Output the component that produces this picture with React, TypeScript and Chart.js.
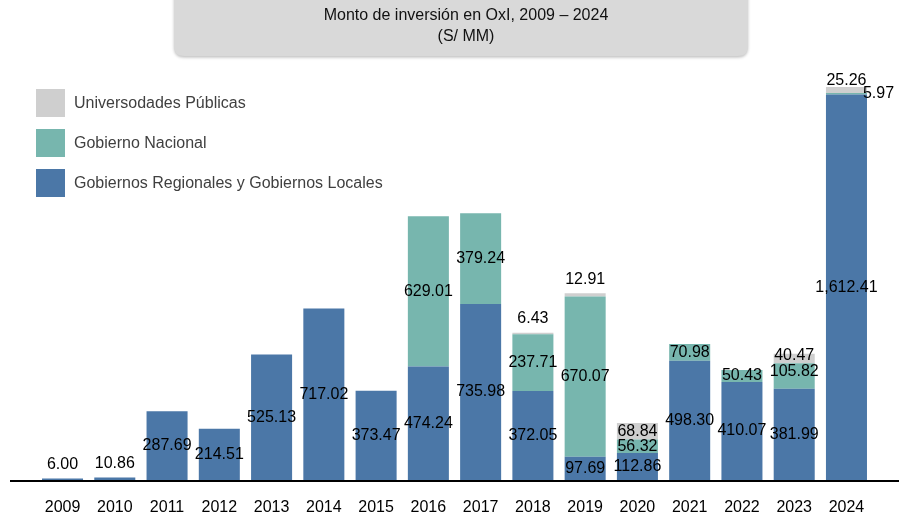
import React, { useEffect, useRef } from 'react';
import { Chart, registerables } from 'chart.js';

Chart.register(...registerables);

const years = ['2009', '2010', '2011', '2012', '2013', '2014', '2015', '2016', '2017', '2018', '2019', '2020', '2021', '2022', '2023', '2024'];
const gobiernosRegionalesLocales = [6.0, 10.86, 287.69, 214.51, 525.13, 717.02, 373.47, 474.24, 735.98, 372.05, 97.69, 112.86, 498.3, 410.07, 381.99, 1612.41];
const gobiernoNacional = [null, null, null, null, null, null, null, 629.01, 379.24, 237.71, 670.07, 56.32, 70.98, 50.43, 105.82, 5.97];
const universidadesPublicas = [null, null, null, null, null, null, null, null, null, 6.43, 12.91, 68.84, null, null, 40.47, 25.26];

const titleLines = ['Monto de inversión en OxI, 2009 – 2024', '(S/ MM)'];
const seriesNames = ['Gobiernos Regionales y Gobiernos Locales', 'Gobierno Nacional', 'Universodades Públicas'];
const seriesColors = ['#4b77a7', '#77b6ae', '#cfcfcf'];

const FONT = '"Liberation Sans", Arial, sans-serif';

const fmt = (v: number) => v.toLocaleString('en-US', { minimumFractionDigits: 2, maximumFractionDigits: 2 });

const decorPlugin = {
  id: 'decor',
  beforeDraw(chart: any) {
    const ctx = chart.ctx;
    ctx.save();
    // title box
    const x = 174, y = -12, w = 574, h = 68, r = 10;
    ctx.shadowColor = 'rgba(0,0,0,0.25)';
    ctx.shadowBlur = 3;
    ctx.shadowOffsetY = 1.5;
    ctx.fillStyle = '#d9d9d9';
    ctx.beginPath();
    ctx.moveTo(x + r, y);
    ctx.lineTo(x + w - r, y);
    ctx.quadraticCurveTo(x + w, y, x + w, y + r);
    ctx.lineTo(x + w, y + h - r);
    ctx.quadraticCurveTo(x + w, y + h, x + w - r, y + h);
    ctx.lineTo(x + r, y + h);
    ctx.quadraticCurveTo(x, y + h, x, y + h - r);
    ctx.lineTo(x, y + r);
    ctx.quadraticCurveTo(x, y, x + r, y);
    ctx.closePath();
    ctx.fill();
    ctx.shadowColor = 'transparent';
    ctx.fillStyle = '#111';
    ctx.font = `16px ${FONT}`;
    ctx.textAlign = 'center';
    ctx.textBaseline = 'middle';
    ctx.fillText(titleLines[0], 466, 16);
    ctx.fillText(titleLines[1], 466, 37);

    // legend (top to bottom: last series first)
    ctx.font = `16px ${FONT}`;
    ctx.textAlign = 'left';
    const order = [2, 1, 0];
    order.forEach((si, k) => {
      const cy = 103 + k * 40;
      ctx.fillStyle = seriesColors[si];
      ctx.fillRect(36, cy - 14, 29, 28);
      ctx.fillStyle = '#404040';
      ctx.fillText(seriesNames[si], 74, cy + 1);
    });
    ctx.restore();
  },
  afterDatasetsDraw(chart: any) {
    const ctx = chart.ctx;
    const area = chart.chartArea;
    ctx.save();
    // baseline
    ctx.fillStyle = '#000';
    ctx.fillRect(10, area.bottom, 889, 2);

    // value labels
    ctx.font = `16px ${FONT}`;
    ctx.textAlign = 'center';
    ctx.textBaseline = 'middle';
    ctx.fillStyle = '#000';
    const n = chart.data.datasets.length;
    for (let i = 0; i < n; i++) {
      const meta = chart.getDatasetMeta(i);
      const data = chart.data.datasets[i].data;
      meta.data.forEach((el: any, j: number) => {
        const v = data[j];
        if (v === null || v === undefined) return;
        let isTop = true;
        for (let k = i + 1; k < n; k++) {
          const vv = chart.data.datasets[k].data[j];
          if (vv !== null && vv !== undefined) isTop = false;
        }
        const top = Math.min(el.y, el.base);
        const bottom = Math.max(el.y, el.base);
        const h = bottom - top;
        let lx = el.x;
        let ly = (top + bottom) / 2;
        if (v < 15) {
          if (isTop) {
            ly = top - 14;
          } else {
            lx = el.x + 32;
          }
        } else if (h < 8) {
          ly = top - 6;
        }
        if (i === 2 && j === 14) ly -= 3;
        if (i === 1 && j === 14) ly -= 4;
        ctx.fillText(fmt(v as number), lx, ly);
      });
    }
    ctx.restore();
  },
};

export default function App() {
  const ref = useRef<HTMLCanvasElement | null>(null);
  useEffect(() => {
    if (!ref.current) return;
    const chart = new Chart(ref.current, {
      type: 'bar',
      data: {
        labels: years,
        datasets: [
          { label: seriesNames[0], data: gobiernosRegionalesLocales, backgroundColor: seriesColors[0], borderWidth: 0 },
          { label: seriesNames[1], data: gobiernoNacional, backgroundColor: seriesColors[1], borderWidth: 0 },
          { label: seriesNames[2], data: universidadesPublicas, backgroundColor: seriesColors[2], borderWidth: 0 },
        ],
      },
      options: {
        responsive: false,
        animation: false,
        events: [],
        layout: { padding: { top: 73.5, left: 36.4, right: 33.4, bottom: 0 } },
        datasets: { bar: { barPercentage: 0.785, categoryPercentage: 1 } },
        plugins: { legend: { display: false }, title: { display: false }, tooltip: { enabled: false } },
        scales: {
          x: {
            stacked: true,
            grid: { display: false, drawTicks: false },
            border: { display: false },
            ticks: { color: '#000', font: { family: FONT, size: 16 }, padding: 18, maxRotation: 0, autoSkip: false },
            afterFit: (scale: any) => { scale.height = 38; },
          },
          y: {
            stacked: true,
            display: false,
            min: 0,
            max: 1700,
          },
        },
      },
      plugins: [decorPlugin],
    });
    return () => chart.destroy();
  }, []);
  return (
    <div style={{ position: 'absolute', left: 0, top: 0, width: 906, height: 518, background: '#fff' }}>
      <canvas ref={ref} width={906} height={518} />
    </div>
  );
}
